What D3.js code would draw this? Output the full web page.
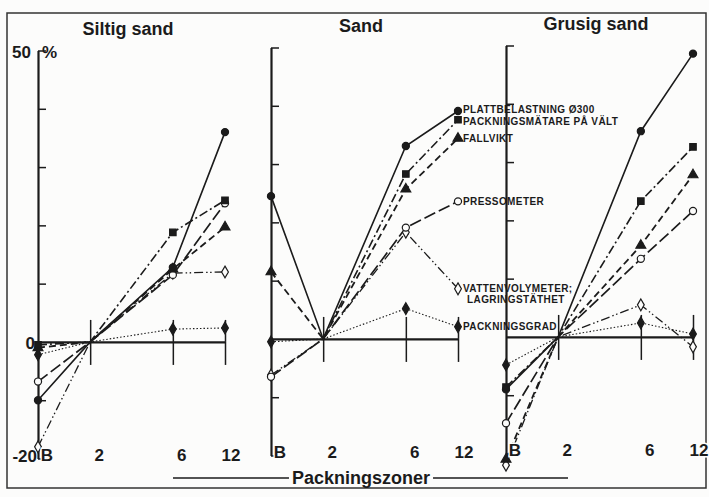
<!DOCTYPE html>
<html>
<head>
<meta charset="utf-8">
<script src="https://cdnjs.cloudflare.com/ajax/libs/d3/7.8.5/d3.min.js"></script>
<style>
body{margin:0;background:#fcfcfb;}
svg{display:block;font-family:"Liberation Sans",Arial,sans-serif;font-weight:bold;}
</style>
</head>
<body>
<script>
var zones = ['B','2','6','12'];
var zoneValues = [1,2,6,12];   // B is drawn at 1 on the log axis
var panelTitles = ['Siltig sand','Sand','Grusig sand'];
var yTicks = [-20,-10,10,20,30,40,50];
var seriesNames = ['PLATTBELASTNING Ø300','PACKNINGSMÄTARE PÅ VÄLT','FALLVIKT','PRESSOMETER','VATTENVOLYMETER;|LAGRINGSTÄTHET','PACKNINGSGRAD'];

// one row per panel: Siltig sand, Sand, Grusig sand (values in %)
var plattbelastning = [[-10,0,12.8,36],[24.5,0,33.1,39.1],[-9,0,35.3,48.6]];
var packningsmatare = [[-0.5,0,18.8,24.3],[null,0,28.3,37.6],[-8.6,0,23.3,32.6]];
var fallvikt        = [[-1,0,12.5,19.7],[11.5,0,25.7,34.4],[-21,0,15.7,27.8]];
var pressometer     = [[-6.8,0,11.5,23.8],[-6.5,0,19.1,23.6],[-14.8,0,13.4,21.6]];
var vattenvolymeter = [[-18,0,11.8,12],[-6.2,0,18.3,8.6],[-22,0,5.5,-1.7]];
var packningsgrad   = [[-2.2,0,2.2,2.4],[-0.5,0,5.2,2.1],[-4.8,0,2.4,0.5]];

var seriesValues = [plattbelastning,packningsmatare,fallvikt,pressometer,vattenvolymeter,packningsgrad];
var dashes = ['none','9,3,2,3','7,4','12,4','9,3,1.5,2.5,1.5,3','1.5,2'];
var widths = [1.6,1.6,1.8,1.7,1.3,1.1];
var symbols = [d3.symbolCircle,d3.symbolSquare,d3.symbolTriangle,d3.symbolCircle,d3.symbolDiamond,d3.symbolDiamond];
var sizes = [40,42,42,40,40,40];
var filled = [true,true,true,false,false,true];

var ink = '#1b1b1b', paper = '#fcfcfb';
var width = 709, height = 497;
var panelX = [38,271,506];
var panelDy = [1.5,-1.5,-3.5];   // scan is slightly tilted

var x = d3.scaleLog().domain([1,12]).range([0,187]);
var y = d3.scaleLinear().domain([-20,50]).range([457,49]);

var svg = d3.select('body').append('svg').attr('width',width).attr('height',height);

svg.append('rect').attr('x',7).attr('y',13).attr('width',699).attr('height',475)
    .attr('fill','none').attr('stroke','#333').attr('stroke-width',1.5);

var line = d3.line()
    .defined(function(d){ return d != null; })
    .x(function(d,i){ return x(zoneValues[i]); })
    .y(function(d){ return y(d); });

var drawOrder = [4,3,5,2,1,0];

panelTitles.forEach(function(title,p){
  var g = svg.append('g').attr('transform','translate('+panelX[p]+','+panelDy[p]+')');

  g.append('text').attr('x',90).attr('y',33).attr('text-anchor','middle')
      .attr('font-size',18).attr('fill',ink).text(title);

  // vertical % axis at zone B
  var yAxis = d3.axisRight(y).tickValues(yTicks).tickSize(8).tickSizeOuter(0).tickFormat('');
  var ya = g.append('g').call(yAxis);
  ya.select('.domain').attr('stroke',ink).attr('stroke-width',2.2);
  ya.selectAll('.tick line').attr('stroke',ink).attr('stroke-width',1.5);

  // zero line with zone ticks crossing it
  var zb = g.append('g').attr('transform','translate(0,'+y(0)+')')
      .call(d3.axisBottom(x).tickValues([2,6,12]).tickSize(23).tickSizeOuter(0).tickFormat(''));
  var zt = g.append('g').attr('transform','translate(0,'+y(0)+')')
      .call(d3.axisTop(x).tickValues([2,6,12]).tickSize(22).tickSizeOuter(0).tickFormat(''));
  zt.select('.domain').remove();
  zb.select('.domain').attr('stroke',ink).attr('stroke-width',2.2);
  g.selectAll('.tick line').attr('stroke',ink).attr('stroke-width',1.5);

  drawOrder.forEach(function(s){
    g.append('path').attr('d',line(seriesValues[s][p]))
        .attr('fill','none').attr('stroke',ink)
        .attr('stroke-width',widths[s]).attr('stroke-dasharray',dashes[s]);
  });

  drawOrder.forEach(function(s){
    var pts = seriesValues[s][p].map(function(v,i){ return {v:v,z:zoneValues[i]}; })
        .filter(function(d){ return d.v != null && d.z != 2; });
    g.selectAll(null).data(pts).enter().append('path')
        .attr('transform',function(d){ return 'translate('+x(d.z)+','+y(d.v)+')'; })
        .attr('d',d3.symbol().type(symbols[s]).size(sizes[s]))
        .attr('fill',filled[s] ? ink : paper)
        .attr('stroke',ink).attr('stroke-width',1.2);
  });

  // zone labels, painted over the lines
  g.selectAll('.zone').data(zones).enter().append('text')
      .attr('x',function(d,i){ return x(zoneValues[i]) + (i==3 ? 6 : 9); })
      .attr('y',y(-20)+2).attr('text-anchor','middle')
      .attr('font-size',17).attr('fill',ink)
      .attr('stroke',paper).attr('stroke-width',3).attr('paint-order','stroke')
      .text(function(d){ return d; });

  if (p == 1) {
    // labels for the methods, next to the last point; nudge apart where they crowd
    var ly = seriesValues.map(function(v){ return y(v[p][3]); });
    for (var s = 1; s < ly.length; s++) {
      var gap = ly[s] - ly[s-1];
      if (gap < 12) { ly[s-1] -= (12-gap)/2; ly[s] += (12-gap)/2; }
    }
    seriesNames.forEach(function(name,s){
      var parts = name.split('|');
      var t = g.append('text').attr('x',x(12)+5).attr('y',ly[s]+3.5)
          .attr('font-size',10).attr('letter-spacing',0.4).attr('fill',ink);
      t.append('tspan').text(parts[0]);
      if (parts[1]) t.append('tspan').attr('x',x(12)+9).attr('dy',11).text(parts[1]);
    });
  }
});

// scale labels on the first panel
var g0 = svg.append('g').attr('transform','translate('+panelX[0]+','+panelDy[0]+')');
g0.append('text').attr('x',-7).attr('y',y(50)+7).attr('text-anchor','end').attr('font-size',17).attr('fill',ink).text('50');
g0.append('text').attr('x',4).attr('y',y(50)+7).attr('font-size',17).attr('fill',ink).text('%');
g0.append('text').attr('x',-3).attr('y',y(0)+7).attr('text-anchor','end').attr('font-size',17).attr('fill',ink).text('0');
g0.append('text').attr('x',-1).attr('y',y(-20)+3).attr('text-anchor','end').attr('font-size',17).attr('fill',ink).text('-20');

// x axis title
var xt = svg.append('text').attr('x',361).attr('y',484).attr('text-anchor','middle')
    .attr('font-size',18).attr('fill',ink).text('Packningszoner');
var tw = xt.node().getComputedTextLength();
svg.append('line').attr('x1',173).attr('x2',361-tw/2-3).attr('y1',478).attr('y2',478)
    .attr('stroke',ink).attr('stroke-width',1.3);
svg.append('line').attr('x1',361+tw/2+3).attr('x2',568).attr('y1',478).attr('y2',478)
    .attr('stroke',ink).attr('stroke-width',1.3);
</script>
</body>
</html>
